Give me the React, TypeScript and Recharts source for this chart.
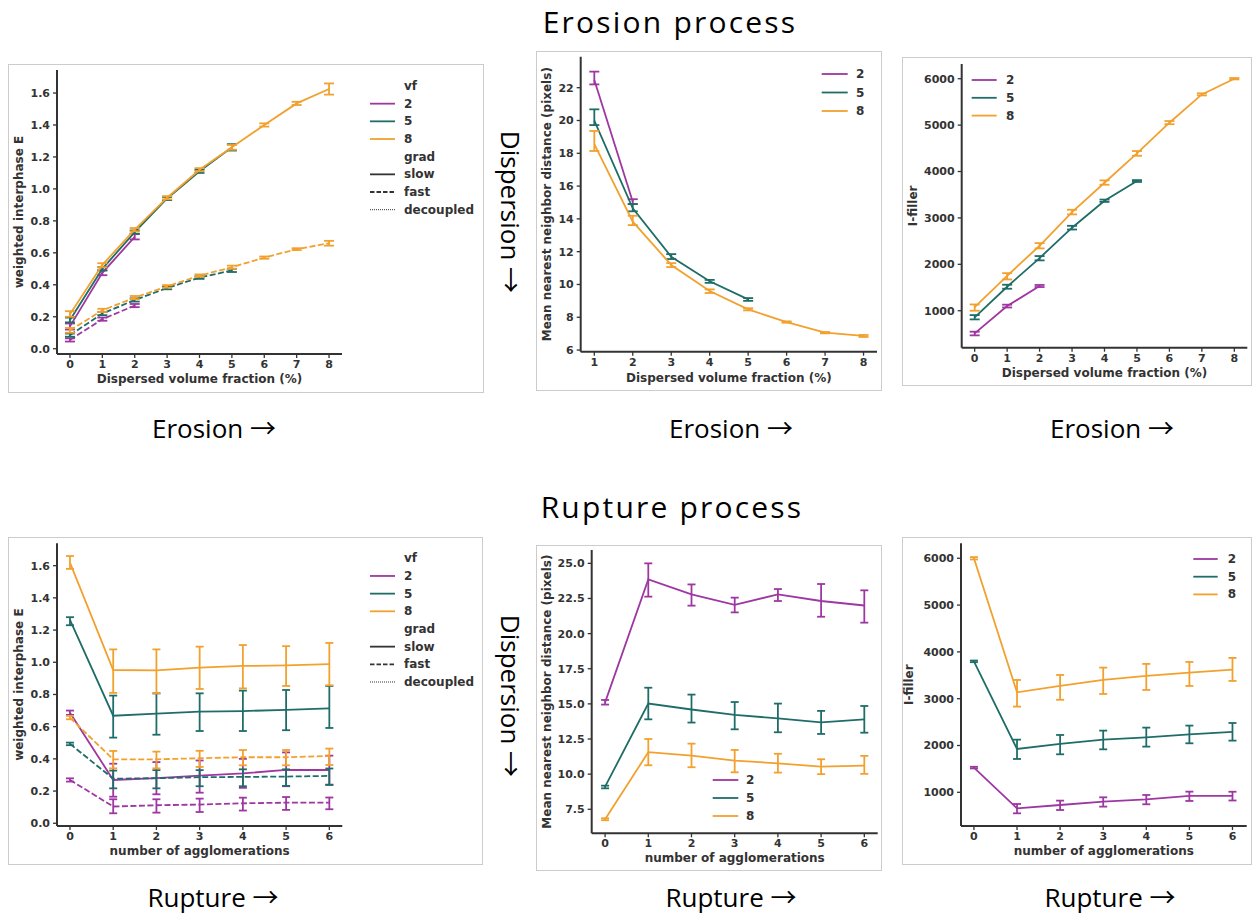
import React from "react";
import { ErrorBar, Legend, Line, LineChart, XAxis, YAxis } from "recharts";

const PURPLE = "#9e37a2";
const TEAL = "#1f6d68";
const ORANGE = "#f2a12e";
const INK = "#333333";
const MPL_FONT = "'DejaVu Sans', Verdana, sans-serif";
const SLIDE_FONT = "'Open Sans', 'Noto Sans', sans-serif";
const ARROW_FONT = "'Noto Sans CJK SC', 'DejaVu Sans', sans-serif";

// ---- axes ----
const VF_X = [0, 1, 2, 3, 4, 5, 6, 7, 8];
const NND_VF_X = [1, 2, 3, 4, 5, 6, 7, 8];
const AGG_X = [0, 1, 2, 3, 4, 5, 6];
const E_TICKS = [0, 0.2, 0.4, 0.6, 0.8, 1.0, 1.2, 1.4, 1.6];
const NND_ERO_TICKS = [6, 8, 10, 12, 14, 16, 18, 20, 22];
const NND_RUP_TICKS = [7.5, 10, 12.5, 15, 17.5, 20, 22.5, 25];
const FILLER_TICKS = [1000, 2000, 3000, 4000, 5000, 6000];

const VF_LEVELS = ["2", "5", "8"];
const GRAD_LEVELS = ["slow", "fast", "decoupled"];

// ---- erosion: weighted interphase E ----
const eroEslow2 = [0.14, 0.475, 0.7];
const eroEslow2Lo = [0.12, 0.46, 0.684];
const eroEslow2Hi = [0.158, 0.49, 0.717];
const eroEslow5 = [0.18, 0.5, 0.73, 0.94, 1.11, 1.26];
const eroEslow5Lo = [0.165, 0.49, 0.72, 0.93, 1.1, 1.24];
const eroEslow5Hi = [0.195, 0.51, 0.74, 0.95, 1.12, 1.28];
const eroEslow8 = [0.215, 0.525, 0.745, 0.945, 1.12, 1.26, 1.4, 1.535, 1.625];
const eroEslow8Lo = [0.2, 0.51, 0.735, 0.935, 1.11, 1.245, 1.39, 1.525, 1.59];
const eroEslow8Hi = [0.235, 0.535, 0.755, 0.955, 1.13, 1.275, 1.41, 1.545, 1.66];
const eroEfast2 = [0.055, 0.185, 0.27];
const eroEfast2Lo = [0.045, 0.175, 0.26];
const eroEfast2Hi = [0.065, 0.195, 0.28];
const eroEfast5 = [0.085, 0.22, 0.305, 0.38, 0.445, 0.49];
const eroEfast5Lo = [0.075, 0.21, 0.295, 0.372, 0.437, 0.48];
const eroEfast5Hi = [0.095, 0.23, 0.315, 0.388, 0.453, 0.5];
const eroEfast8 = [0.115, 0.24, 0.32, 0.39, 0.457, 0.51, 0.57, 0.623, 0.66];
const eroEfast8Lo = [0.1, 0.23, 0.31, 0.382, 0.45, 0.5, 0.563, 0.617, 0.645];
const eroEfast8Hi = [0.13, 0.25, 0.33, 0.398, 0.465, 0.52, 0.577, 0.629, 0.675];

// ---- erosion: mean nearest neighbor distance ----
const eroNnd2 = [22.47, 15.05];
const eroNnd2Lo = [22.2, 14.9];
const eroNnd2Hi = [22.98, 15.2];
const eroNnd5 = [19.99, 14.64, 11.69, 10.2, 9.09];
const eroNnd5Lo = [19.72, 14.46, 11.55, 10.1, 9.0];
const eroNnd5Hi = [20.68, 14.9, 11.85, 10.28, 9.17];
const eroNnd8 = [18.56, 13.83, 11.19, 9.6, 8.48, 7.71, 7.06, 6.86];
const eroNnd8Lo = [18.14, 13.62, 11.06, 9.48, 8.42, 7.67, 7.02, 6.8];
const eroNnd8Hi = [19.36, 14.19, 11.3, 9.7, 8.55, 7.75, 7.1, 6.92];

// ---- erosion: I-filler ----
const eroFil2 = [512, 1101, 1532];
const eroFil2Lo = [469, 1070, 1510];
const eroFil2Hi = [548, 1130, 1555];
const eroFil5 = [856, 1517, 2135, 2789, 3371, 3795];
const eroFil5Lo = [813, 1474, 2085, 2750, 3345, 3775];
const eroFil5Hi = [906, 1560, 2178, 2830, 3395, 3815];
const eroFil8 = [1078, 1753, 2400, 3126, 3758, 4391, 5052, 5662, 6000];
const eroFil8Lo = [1000, 1674, 2343, 3076, 3715, 4339, 5020, 5640, 5985];
const eroFil8Hi = [1135, 1810, 2457, 3176, 3809, 4441, 5088, 5685, 6015];

// ---- rupture: weighted interphase E ----
const rupEslow2 = [0.687, 0.269, 0.28, 0.296, 0.31, 0.331, 0.331];
const rupEslow2Lo = [0.673, 0.165, 0.18, 0.19, 0.22, 0.23, 0.24];
const rupEslow2Hi = [0.7, 0.37, 0.38, 0.39, 0.4, 0.44, 0.42];
const rupEslow5 = [1.263, 0.668, 0.681, 0.693, 0.697, 0.704, 0.714];
const rupEslow5Lo = [1.23, 0.532, 0.55, 0.573, 0.573, 0.578, 0.592];
const rupEslow5Hi = [1.28, 0.793, 0.807, 0.807, 0.824, 0.828, 0.853];
const rupEslow8 = [1.619, 0.952, 0.95, 0.967, 0.977, 0.981, 0.989];
const rupEslow8Lo = [1.58, 0.81, 0.806, 0.834, 0.838, 0.853, 0.857];
const rupEslow8Hi = [1.66, 1.08, 1.08, 1.097, 1.107, 1.1, 1.12];
const rupEfast2 = [0.269, 0.104, 0.112, 0.116, 0.124, 0.128, 0.128];
const rupEfast2Lo = [0.259, 0.062, 0.066, 0.07, 0.079, 0.083, 0.087];
const rupEfast2Hi = [0.279, 0.149, 0.149, 0.153, 0.159, 0.163, 0.16];
const rupEfast5 = [0.493, 0.277, 0.28, 0.286, 0.288, 0.29, 0.294];
const rupEfast5Lo = [0.485, 0.217, 0.217, 0.23, 0.23, 0.232, 0.238];
const rupEfast5Hi = [0.501, 0.327, 0.33, 0.33, 0.335, 0.335, 0.34];
const rupEfast8 = [0.655, 0.397, 0.397, 0.404, 0.41, 0.41, 0.418];
const rupEfast8Lo = [0.646, 0.341, 0.341, 0.35, 0.36, 0.36, 0.362];
const rupEfast8Hi = [0.667, 0.449, 0.445, 0.45, 0.455, 0.455, 0.464];

// ---- rupture: mean nearest neighbor distance ----
const rupNnd2 = [15.11, 23.86, 22.79, 22.04, 22.79, 22.32, 22.0];
const rupNnd2Lo = [14.95, 22.63, 21.99, 21.51, 22.32, 21.2, 20.78];
const rupNnd2Hi = [15.28, 25.0, 23.5, 22.56, 23.17, 23.53, 23.08];
const rupNnd5 = [9.11, 15.02, 14.6, 14.21, 13.97, 13.69, 13.9];
const rupNnd5Lo = [8.99, 13.9, 13.67, 13.19, 12.98, 12.86, 12.95];
const rupNnd5Hi = [9.18, 16.15, 15.66, 15.13, 15.02, 14.5, 14.85];
const rupNnd8 = [6.79, 11.56, 11.32, 10.96, 10.77, 10.54, 10.6];
const rupNnd8Lo = [6.72, 10.63, 10.49, 10.13, 10.11, 10.0, 10.02];
const rupNnd8Hi = [6.86, 12.5, 12.17, 11.72, 11.45, 11.06, 11.3];

// ---- rupture: I-filler ----
const rupFil2 = [1527, 658, 729, 801, 850, 922, 922];
const rupFil2Lo = [1510, 551, 622, 694, 744, 815, 825];
const rupFil2Hi = [1545, 750, 822, 893, 943, 1014, 1012];
const rupFil5 = [3799, 1926, 2033, 2125, 2175, 2239, 2289];
const rupFil5Lo = [3780, 1712, 1812, 1918, 1976, 2047, 2104];
const rupFil5Hi = [3815, 2125, 2225, 2318, 2382, 2425, 2481];
const rupFil8 = [6000, 3137, 3272, 3400, 3486, 3557, 3621];
const rupFil8Lo = [5975, 2831, 2977, 3101, 3187, 3272, 3379];
const rupFil8Hi = [6025, 3400, 3507, 3664, 3743, 3785, 3871];

type SeriesDef = {
  key: string;
  color: string;
  dashed?: boolean;
  mean: number[];
  lo: number[];
  hi: number[];
};

type LegendRow = { label: string; color?: string; dash?: string; thin?: boolean };

const COLORS = [PURPLE, TEAL, ORANGE];

const vfRows: LegendRow[] = VF_LEVELS.map((l, i) => ({ label: l, color: COLORS[i] }));
const fullRows: LegendRow[] = [
  { label: "vf" },
  ...vfRows,
  { label: "grad" },
  { label: GRAD_LEVELS[0], color: INK, dash: "" },
  { label: GRAD_LEVELS[1], color: INK, dash: "4.5 2" },
  { label: GRAD_LEVELS[2], color: INK, dash: "1 1", thin: true },
];

function buildRows(xs: number[], series: SeriesDef[]) {
  return xs.map((x, i) => {
    const row: Record<string, unknown> = { x };
    series.forEach((s) => {
      if (i < s.mean.length) {
        row[s.key] = s.mean[i];
        row[s.key + "Err"] = [s.mean[i] - s.lo[i], s.hi[i] - s.mean[i]];
      } else {
        row[s.key] = null;
      }
    });
    return row;
  });
}

type PanelProps = {
  frame: { x: number; y: number; w: number; h: number };
  plot: { l: number; t: number; r: number; b: number };
  xs: number[];
  xDomain: [number, number];
  yDomain: [number, number];
  yTicks: number[];
  yDigits: number;
  xLabel: string;
  yLabel: string;
  yLabelX: number;
  xLabelY: number;
  series: SeriesDef[];
  legendRows: LegendRow[];
  legendPos: { x1: number; x2: number; tx: number; y0: number; dy: number };
  cap: number;
};

const tickStyle = { fill: INK, fontSize: 11, fontWeight: "bold", fontFamily: MPL_FONT };

function Panel(p: PanelProps) {
  const { frame, plot } = p;
  const rows = buildRows(p.xs, p.series);
  const cx = (plot.l + plot.r) / 2;
  const cy = (plot.t + plot.b) / 2;

  const legendContent = () => (
    <svg width={frame.w} height={frame.h} style={{ position: "absolute", left: 0, top: 0 }}>
      {p.legendRows.map((r, i) => {
        const y = p.legendPos.y0 + i * p.legendPos.dy;
        return (
          <g key={r.label}>
            {r.color && (
              <line
                x1={p.legendPos.x1}
                x2={p.legendPos.x2}
                y1={y}
                y2={y}
                stroke={r.color}
                strokeWidth={r.thin ? 1 : 1.8}
                strokeDasharray={r.dash || undefined}
              />
            )}
            <text
              x={p.legendPos.tx}
              y={y}
              dominantBaseline="central"
              fill={INK}
              fontSize={12}
              fontWeight="bold"
              fontFamily={MPL_FONT}
            >
              {r.label}
            </text>
          </g>
        );
      })}
    </svg>
  );

  return (
    <div style={{ position: "absolute", left: frame.x, top: frame.y, width: frame.w, height: frame.h }}>
      <div
        style={{
          position: "absolute",
          inset: 0,
          border: "1px solid #cccccc",
          boxSizing: "border-box",
        }}
      />
      <LineChart
        width={frame.w}
        height={frame.h}
        data={rows}
        margin={{ top: plot.t, right: frame.w - plot.r, bottom: 0, left: 0 }}
      >
        <XAxis
          dataKey="x"
          type="number"
          domain={p.xDomain}
          ticks={p.xs}
          allowDataOverflow
          height={frame.h - plot.b}
          tick={tickStyle}
          tickSize={4}
          tickMargin={2}
          axisLine={{ stroke: INK, strokeWidth: 2 }}
          tickLine={{ stroke: INK, strokeWidth: 1.3 }}
          label={{
            content: () => (
              <text
                x={cx}
                y={p.xLabelY}
                textAnchor="middle"
                fill={INK}
                fontSize={12}
                fontWeight="bold"
                fontFamily={MPL_FONT}
              >
                {p.xLabel}
              </text>
            ),
          }}
        />
        <YAxis
          type="number"
          domain={p.yDomain}
          ticks={p.yTicks}
          allowDataOverflow
          width={plot.l}
          tick={tickStyle}
          tickSize={4}
          tickMargin={3}
          tickFormatter={(v: number) => v.toFixed(p.yDigits)}
          axisLine={{ stroke: INK, strokeWidth: 2 }}
          tickLine={{ stroke: INK, strokeWidth: 1.3 }}
          label={{
            content: () => (
              <text
                x={p.yLabelX}
                y={cy}
                transform={`rotate(-90 ${p.yLabelX} ${cy})`}
                textAnchor="middle"
                dominantBaseline="central"
                fill={INK}
                fontSize={12}
                fontWeight="bold"
                fontFamily={MPL_FONT}
              >
                {p.yLabel}
              </text>
            ),
          }}
        />
        {p.series.map((s) => (
          <Line
            key={s.key}
            dataKey={s.key}
            type="linear"
            stroke={s.color}
            strokeWidth={1.8}
            strokeDasharray={s.dashed ? "6 2.5" : undefined}
            dot={false}
            activeDot={false}
            isAnimationActive={false}
          >
            <ErrorBar
              dataKey={s.key + "Err"}
              width={p.cap}
              stroke={s.color}
              strokeWidth={1.8}
              direction="y"
              isAnimationActive={false}
            />
          </Line>
        ))}
        <Legend
          layout="vertical"
          align="center"
          verticalAlign="middle"
          content={legendContent}
          wrapperStyle={{ position: "absolute", left: 0, top: 0, width: frame.w, height: frame.h }}
        />
      </LineChart>
    </div>
  );
}

const eroE: SeriesDef[] = [
  { key: "s2", color: PURPLE, mean: eroEslow2, lo: eroEslow2Lo, hi: eroEslow2Hi },
  { key: "f2", color: PURPLE, dashed: true, mean: eroEfast2, lo: eroEfast2Lo, hi: eroEfast2Hi },
  { key: "s5", color: TEAL, mean: eroEslow5, lo: eroEslow5Lo, hi: eroEslow5Hi },
  { key: "f5", color: TEAL, dashed: true, mean: eroEfast5, lo: eroEfast5Lo, hi: eroEfast5Hi },
  { key: "s8", color: ORANGE, mean: eroEslow8, lo: eroEslow8Lo, hi: eroEslow8Hi },
  { key: "f8", color: ORANGE, dashed: true, mean: eroEfast8, lo: eroEfast8Lo, hi: eroEfast8Hi },
];
const eroNnd: SeriesDef[] = [
  { key: "v2", color: PURPLE, mean: eroNnd2, lo: eroNnd2Lo, hi: eroNnd2Hi },
  { key: "v5", color: TEAL, mean: eroNnd5, lo: eroNnd5Lo, hi: eroNnd5Hi },
  { key: "v8", color: ORANGE, mean: eroNnd8, lo: eroNnd8Lo, hi: eroNnd8Hi },
];
const eroFil: SeriesDef[] = [
  { key: "v2", color: PURPLE, mean: eroFil2, lo: eroFil2Lo, hi: eroFil2Hi },
  { key: "v5", color: TEAL, mean: eroFil5, lo: eroFil5Lo, hi: eroFil5Hi },
  { key: "v8", color: ORANGE, mean: eroFil8, lo: eroFil8Lo, hi: eroFil8Hi },
];
const rupE: SeriesDef[] = [
  { key: "s2", color: PURPLE, mean: rupEslow2, lo: rupEslow2Lo, hi: rupEslow2Hi },
  { key: "f2", color: PURPLE, dashed: true, mean: rupEfast2, lo: rupEfast2Lo, hi: rupEfast2Hi },
  { key: "s5", color: TEAL, mean: rupEslow5, lo: rupEslow5Lo, hi: rupEslow5Hi },
  { key: "f5", color: TEAL, dashed: true, mean: rupEfast5, lo: rupEfast5Lo, hi: rupEfast5Hi },
  { key: "s8", color: ORANGE, mean: rupEslow8, lo: rupEslow8Lo, hi: rupEslow8Hi },
  { key: "f8", color: ORANGE, dashed: true, mean: rupEfast8, lo: rupEfast8Lo, hi: rupEfast8Hi },
];
const rupNnd: SeriesDef[] = [
  { key: "v2", color: PURPLE, mean: rupNnd2, lo: rupNnd2Lo, hi: rupNnd2Hi },
  { key: "v5", color: TEAL, mean: rupNnd5, lo: rupNnd5Lo, hi: rupNnd5Hi },
  { key: "v8", color: ORANGE, mean: rupNnd8, lo: rupNnd8Lo, hi: rupNnd8Hi },
];
const rupFil: SeriesDef[] = [
  { key: "v2", color: PURPLE, mean: rupFil2, lo: rupFil2Lo, hi: rupFil2Hi },
  { key: "v5", color: TEAL, mean: rupFil5, lo: rupFil5Lo, hi: rupFil5Hi },
  { key: "v8", color: ORANGE, mean: rupFil8, lo: rupFil8Lo, hi: rupFil8Hi },
];

const VF_LABEL = "Dispersed volume fraction (%)";
const AGG_LABEL = "number of agglomerations";
const E_LABEL = "weighted interphase E";
const NND_LABEL = "Mean nearest neighbor distance (pixels)";
const FIL_LABEL = "I-filler";

function SlideText() {
  const big = { fontFamily: SLIDE_FONT, fill: "#000" };
  const arrow = <tspan fontFamily={ARROW_FONT}>{"\u2192"}</tspan>;
  const arrowCaption = (x: number, y: number, text: string) => (
    <text x={x} y={y} textAnchor="middle" fontSize={26} {...big}>
      {text} {arrow}
    </text>
  );
  const sideCaption = (cx: number, cy: number) => (
    <text
      x={cx}
      y={cy}
      transform={`rotate(90 ${cx} ${cy})`}
      textAnchor="middle"
      fontSize={26}
      {...big}
    >
      Dispersion {arrow}
    </text>
  );
  const title = (x: number, y: number, text: string) => (
    <text x={x} y={y} textAnchor="middle" fontSize={30} letterSpacing={2.2} {...big}>
      {text}
    </text>
  );
  return (
    <svg width={1252} height={916} style={{ position: "absolute", left: 0, top: 0 }}>
      {title(670, 32.5, "Erosion process")}
      {title(672, 518, "Rupture process")}
      {arrowCaption(214, 438, "Erosion")}
      {arrowCaption(731, 438, "Erosion")}
      {arrowCaption(1112, 438, "Erosion")}
      {arrowCaption(213, 907, "Rupture")}
      {arrowCaption(731, 907, "Rupture")}
      {arrowCaption(1110, 907, "Rupture")}
      {sideCaption(501, 212)}
      {sideCaption(501, 696)}
    </svg>
  );
}

export default function App() {
  return (
    <div
      style={{
        position: "absolute",
        left: 0,
        top: 0,
        width: 1252,
        height: 916,
        background: "#fff",
        overflow: "hidden",
      }}
    >
      <SlideText />
      <Panel
        frame={{ x: 8, y: 64, w: 476, h: 329 }}
        plot={{ l: 49, t: 6, r: 334, b: 290 }}
        xs={VF_X}
        xDomain={[-0.4, 8.4]}
        yDomain={[-0.033, 1.744]}
        yTicks={E_TICKS}
        yDigits={1}
        xLabel={VF_LABEL}
        yLabel={E_LABEL}
        yLabelX={11.3}
        xLabelY={319}
        series={eroE}
        legendRows={fullRows}
        legendPos={{ x1: 362, x2: 387, tx: 396, y0: 22, dy: 17.67 }}
        cap={5}
      />
      <Panel
        frame={{ x: 536, y: 51, w: 346, h: 340 }}
        plot={{ l: 44.7, t: 5.7, r: 341, b: 300.7 }}
        xs={NND_VF_X}
        xDomain={[0.646, 8.35]}
        yDomain={[5.9, 23.89]}
        yTicks={NND_ERO_TICKS}
        yDigits={0}
        xLabel={VF_LABEL}
        yLabel={NND_LABEL}
        yLabelX={10.7}
        xLabelY={330.7}
        series={eroNnd}
        legendRows={vfRows}
        legendPos={{ x1: 285.7, x2: 311.7, tx: 320, y0: 23, dy: 18.5 }}
        cap={5}
      />
      <Panel
        frame={{ x: 902, y: 57, w: 350, h: 329 }}
        plot={{ l: 59.7, t: 7, r: 345.3, b: 290.7 }}
        xs={VF_X}
        xDomain={[-0.4, 8.4]}
        yDomain={[203, 6317]}
        yTicks={FILLER_TICKS}
        yDigits={0}
        xLabel={VF_LABEL}
        yLabel={FIL_LABEL}
        yLabelX={11.3}
        xLabelY={319.7}
        series={eroFil}
        legendRows={vfRows}
        legendPos={{ x1: 69.7, x2: 94.7, tx: 104, y0: 23, dy: 17.8 }}
        cap={5}
      />
      <Panel
        frame={{ x: 8, y: 537, w: 475, h: 328 }}
        plot={{ l: 49, t: 6.3, r: 334.3, b: 289 }}
        xs={AGG_X}
        xDomain={[-0.3, 6.3]}
        yDomain={[-0.017, 1.739]}
        yTicks={E_TICKS}
        yDigits={1}
        xLabel={AGG_LABEL}
        yLabel={E_LABEL}
        yLabelX={11.3}
        xLabelY={318}
        series={rupE}
        legendRows={fullRows}
        legendPos={{ x1: 362, x2: 387, tx: 396, y0: 21.3, dy: 17.67 }}
        cap={4}
      />
      <Panel
        frame={{ x: 536, y: 545, w: 346, h: 326 }}
        plot={{ l: 55.7, t: 5, r: 341.7, b: 288.3 }}
        xs={AGG_X}
        xDomain={[-0.31, 6.31]}
        yDomain={[5.79, 25.95]}
        yTicks={NND_RUP_TICKS}
        yDigits={1}
        xLabel={AGG_LABEL}
        yLabel={NND_LABEL}
        yLabelX={11.3}
        xLabelY={316.7}
        series={rupNnd}
        legendRows={vfRows}
        legendPos={{ x1: 176.7, x2: 202.3, tx: 210, y0: 235, dy: 18 }}
        cap={4}
      />
      <Panel
        frame={{ x: 902, y: 537, w: 350, h: 328 }}
        plot={{ l: 59, t: 6.3, r: 344.7, b: 289 }}
        xs={AGG_X}
        xDomain={[-0.3, 6.33]}
        yDomain={[280, 6320]}
        yTicks={FILLER_TICKS}
        yDigits={0}
        xLabel={AGG_LABEL}
        yLabel={FIL_LABEL}
        yLabelX={7.3}
        xLabelY={318}
        series={rupFil}
        legendRows={vfRows}
        legendPos={{ x1: 291.3, x2: 315.7, tx: 325.7, y0: 22, dy: 17.7 }}
        cap={4}
      />
    </div>
  );
}
